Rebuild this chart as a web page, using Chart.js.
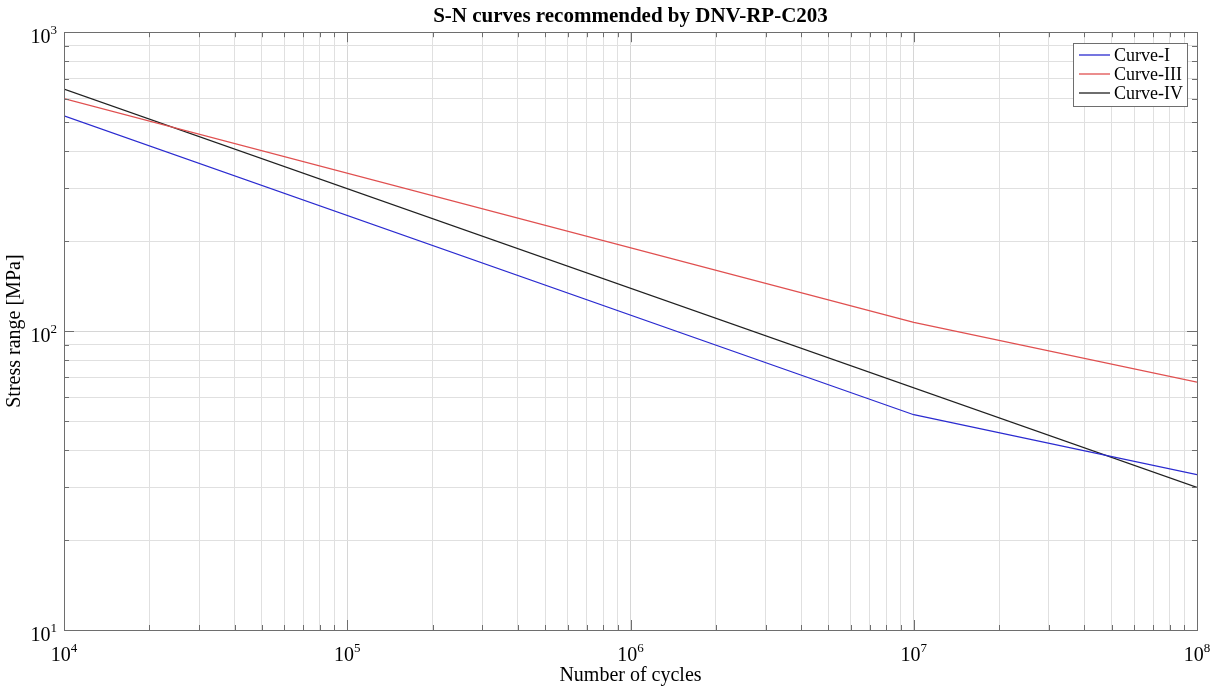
<!DOCTYPE html>
<html>
<head>
<meta charset="utf-8">
<script src="https://cdn.jsdelivr.net/npm/chart.js@4/dist/chart.umd.min.js"></script>
<style>
  html, body { margin: 0; padding: 0; background: #fff; }
  #wrap { width: 1219px; height: 688px; }
</style>
</head>
<body>
<div id="wrap"><canvas id="snChart" width="1219" height="688"></canvas></div>
<script>
// S-N kurva (DNV-RP-C203)
const cycles = [1e4, 1e7, 1e8];
const curveI = [525, 52.5, 33.1];
const curveIII = [600, 107, 67.5];
const curveIVcycles = [1e4, 1e8];
const curveIV = [645, 30];

const seriesNames = ['Curve-I', 'Curve-III', 'Curve-IV'];
const seriesColors = ['#2b2bd0', '#e05050', '#202020'];

// tick: 1..9 x 10^n, label cuma di pangkat 10
const xMajor = [1e4, 1e5, 1e6, 1e7, 1e8];
const yMajor = [10, 100, 1000];
const minorSteps = [1, 2, 3, 4, 5, 6, 7, 8, 9];

function buildTicks(majors) {
    let out = [];
    for (let i = 0; i < majors.length; i++) {
        if (i === majors.length - 1) { out.push(majors[i]); break; }
        minorSteps.forEach(s => out.push(s * majors[i]));
    }
    return out;
}
function isMajor(v) {
    const e = Math.log10(v);
    return Math.abs(e - Math.round(e)) < 1e-9;
}
function toPoints(xs, ys) {
    return xs.map((x, i) => ({x: x, y: ys[i]}));
}

const serif = "'Liberation Serif', 'DejaVu Serif', serif";
const baseFont = '20px ' + serif;
const supFont = '13px ' + serif;

// gambar label 10^n dengan pangkat kecil di atas
function drawPow(ctx, v, x, baseY, align) {
    const exp = String(Math.round(Math.log10(v)));
    ctx.font = baseFont;
    const wBase = ctx.measureText('10').width;
    ctx.font = supFont;
    const wSup = ctx.measureText(exp).width;
    const total = wBase + wSup;
    let left = align === 'right' ? x - total : x - total / 2;
    ctx.textAlign = 'left';
    ctx.textBaseline = 'alphabetic';
    ctx.font = baseFont;
    ctx.fillText('10', left, baseY);
    ctx.font = supFont;
    ctx.fillText(exp, left + wBase, baseY - 9);
}

// kotak axis, label tick dan legenda ala MATLAB
const boxPlugin = {
    id: 'boxPlugin',
    afterDatasetsDraw(chart) {
        const {ctx, chartArea: a, scales} = chart;
        ctx.save();
        ctx.strokeStyle = '#6e6e6e';
        ctx.lineWidth = 1;
        // tick kecil ke dalam
        scales.x.ticks.forEach(t => {
            const px = Math.round(scales.x.getPixelForValue(t.value)) + 0.5;
            const len = isMajor(t.value) ? 10 : 5;
            ctx.beginPath();
            ctx.moveTo(px, a.bottom); ctx.lineTo(px, a.bottom - len);
            ctx.moveTo(px, a.top); ctx.lineTo(px, a.top + len);
            ctx.stroke();
        });
        scales.y.ticks.forEach(t => {
            const py = Math.round(scales.y.getPixelForValue(t.value)) + 0.5;
            const len = isMajor(t.value) ? 10 : 5;
            ctx.beginPath();
            ctx.moveTo(a.left, py); ctx.lineTo(a.left + len, py);
            ctx.moveTo(a.right, py); ctx.lineTo(a.right - len, py);
            ctx.stroke();
        });
        ctx.strokeRect(Math.round(a.left) + 0.5, Math.round(a.top) + 0.5,
            Math.round(a.right - a.left), Math.round(a.bottom - a.top));

        // label tick
        ctx.fillStyle = '#000';
        scales.x.ticks.filter(t => isMajor(t.value)).forEach(t => {
            drawPow(ctx, t.value, scales.x.getPixelForValue(t.value), a.bottom + 31, 'center');
        });
        scales.y.ticks.filter(t => isMajor(t.value)).forEach(t => {
            drawPow(ctx, t.value, a.left - 7, scales.y.getPixelForValue(t.value) + 11, 'right');
        });

        // legenda
        const lx = 1073, ly = 43, lw = 114, rowH = 19;
        const lh = 63;
        ctx.fillStyle = '#fff';
        ctx.fillRect(lx, ly, lw, lh);
        ctx.strokeStyle = '#6e6e6e';
        ctx.strokeRect(lx + 0.5, ly + 0.5, lw, lh);
        ctx.font = '18px ' + serif;
        ctx.textAlign = 'left';
        ctx.textBaseline = 'middle';
        chart.data.datasets.forEach((ds, i) => {
            const cy = ly + 12 + i * rowH;
            ctx.strokeStyle = ds.borderColor;
            ctx.lineWidth = 1.3;
            ctx.beginPath();
            ctx.moveTo(lx + 6, cy); ctx.lineTo(lx + 37, cy);
            ctx.stroke();
            ctx.fillStyle = '#000';
            ctx.fillText(ds.label, lx + 41, cy + 1);
        });
        ctx.restore();
    }
};

const ctx = document.getElementById('snChart').getContext('2d');
new Chart(ctx, {
    type: 'line',
    data: {
        datasets: [
            { label: seriesNames[0], data: toPoints(cycles, curveI), borderColor: seriesColors[0] },
            { label: seriesNames[1], data: toPoints(cycles, curveIII), borderColor: seriesColors[1] },
            { label: seriesNames[2], data: toPoints(curveIVcycles, curveIV), borderColor: seriesColors[2] }
        ].map(d => Object.assign(d, { borderWidth: 1.3, pointRadius: 0, tension: 0, fill: false }))
    },
    options: {
        responsive: false,
        animation: false,
        devicePixelRatio: 1,
        layout: { padding: { top: 0, right: 22, bottom: 0, left: 0 } },
        plugins: {
            legend: { display: false },
            tooltip: { enabled: false },
            title: {
                display: true,
                fullSize: false,
                text: 'S-N curves recommended by DNV-RP-C203',
                color: '#000',
                font: { family: serif, size: 21, weight: 'bold' },
                padding: { top: 4, bottom: 3 }
            }
        },
        scales: {
            x: {
                type: 'logarithmic',
                min: 1e4,
                max: 1e8,
                afterBuildTicks: s => { s.ticks = buildTicks(xMajor).map(v => ({value: v})); },
                afterFit: s => { s.height = 58; },
                border: { display: false },
                grid: {
                    drawTicks: false,
                    color: c => isMajor(c.tick.value) ? '#d6d6d6' : '#e0e0e0'
                },
                ticks: { display: false, autoSkip: false },
                title: {
                    display: true,
                    text: 'Number of cycles',
                    color: '#000',
                    font: { family: serif, size: 20 },
                    padding: { top: 0, bottom: 0 }
                }
            },
            y: {
                type: 'logarithmic',
                min: 10,
                max: 1000,
                afterBuildTicks: s => { s.ticks = buildTicks(yMajor).map(v => ({value: v})); },
                afterFit: s => { s.width = 64; },
                border: { display: false },
                grid: {
                    drawTicks: false,
                    color: c => isMajor(c.tick.value) ? '#d6d6d6' : '#e0e0e0'
                },
                ticks: { display: false, autoSkip: false },
                title: {
                    display: true,
                    text: 'Stress range [MPa]',
                    color: '#000',
                    font: { family: serif, size: 20 },
                    padding: { top: 3, bottom: 0 }
                }
            }
        }
    },
    plugins: [boxPlugin]
});
</script>
</body>
</html>
